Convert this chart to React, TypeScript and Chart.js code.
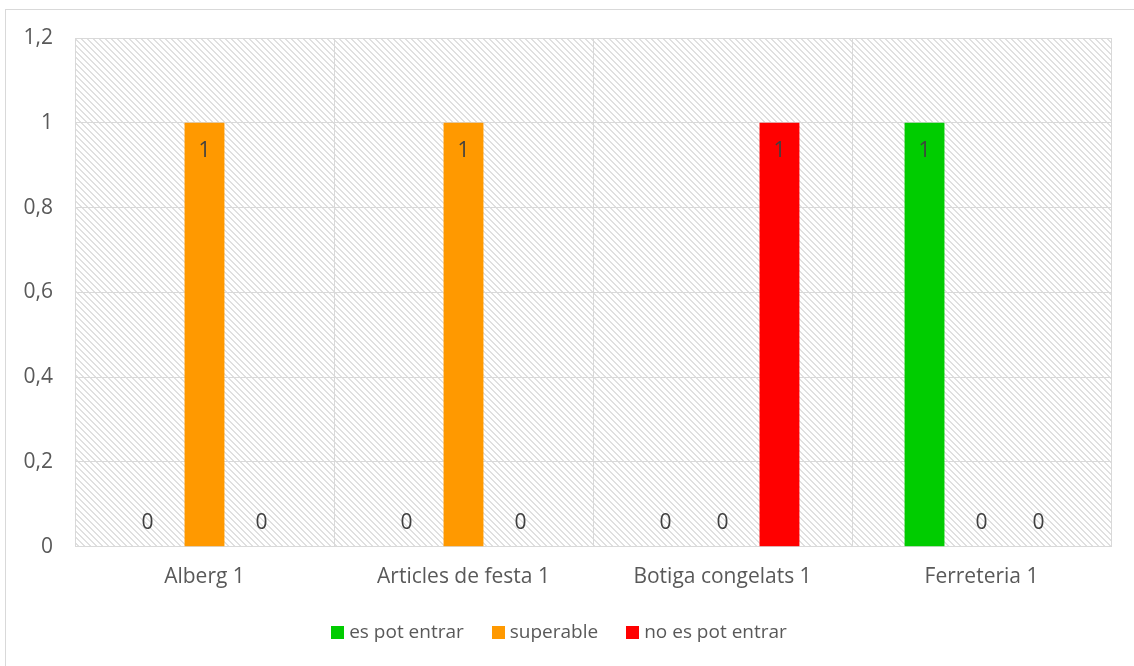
import React, { useEffect, useRef } from "react";
import { Chart, registerables } from "chart.js";

Chart.register(...registerables);

const categories = ["Alberg 1", "Articles de festa 1", "Botiga congelats 1", "Ferreteria 1"];
const seriesNames = ["es pot entrar", "superable", "no es pot entrar"];
const esPotEntrar = [0, 0, 0, 1];
const superable = [1, 1, 0, 0];
const noEsPotEntrar = [0, 0, 1, 0];
const seriesColors = ["#00cc00", "#ff9900", "#ff0000"];
const yTickValues = [0, 0.2, 0.4, 0.6, 0.8, 1, 1.2];
const yTickLabels = ["0", "0,2", "0,4", "0,6", "0,8", "1", "1,2"];

const FONT = "'Open Sans', sans-serif";
const AXIS_SIZE = 21;
const LEGEND_SIZE = 19;
const TEXT = "#595959";
const GRID = "#d9d9d9";

function makePattern(ctx: CanvasRenderingContext2D) {
  const n = 6;
  const c = document.createElement("canvas");
  c.width = n;
  c.height = n;
  const p = c.getContext("2d")!;
  p.fillStyle = "#ffffff";
  p.fillRect(0, 0, n, n);
  p.fillStyle = "#e0e0e0";
  for (let i = 0; i < n; i++) {
    p.fillRect(i, i, 1, 1);
    p.fillRect((i + 1) % n, i, 1, 1);
  }
  return ctx.createPattern(c, "repeat");
}

const hatchPlugin = {
  id: "hatch",
  beforeDraw(chart: any) {
    const { ctx, chartArea } = chart;
    const pat = makePattern(ctx);
    if (!pat) return;
    ctx.save();
    ctx.fillStyle = pat;
    ctx.fillRect(chartArea.left, chartArea.top, chartArea.right - chartArea.left, chartArea.bottom - chartArea.top);
    ctx.restore();
  },
};

const labelPlugin = {
  id: "barLabels",
  afterDatasetsDraw(chart: any) {
    const { ctx } = chart;
    ctx.save();
    ctx.font = `${AXIS_SIZE}px ${FONT}`;
    ctx.fillStyle = "#404040";
    ctx.textAlign = "center";
    ctx.textBaseline = "middle";
    chart.data.datasets.forEach((ds: any, di: number) => {
      const meta = chart.getDatasetMeta(di);
      meta.data.forEach((bar: any, i: number) => {
        const v = ds.data[i];
        const y = v > 0 ? bar.y + 28 : bar.base - 24;
        ctx.fillText(String(v), bar.x, y);
      });
    });
    ctx.restore();
  },
};

const legendPlugin = {
  id: "customLegend",
  afterDraw(chart: any) {
    const { ctx } = chart;
    const box = 13;
    const gap = 5;
    const spacing = 28;
    const cx = 559;
    const cy = 632;
    ctx.save();
    ctx.font = `${LEGEND_SIZE}px ${FONT}`;
    ctx.textBaseline = "middle";
    ctx.textAlign = "left";
    const items = chart.data.datasets.map((ds: any) => ({
      label: ds.label,
      color: ds.backgroundColor,
      w: ctx.measureText(ds.label).width,
    }));
    const total =
      items.reduce((s: number, it: any) => s + box + gap + it.w, 0) + spacing * (items.length - 1);
    let x = cx - total / 2;
    items.forEach((it: any) => {
      ctx.fillStyle = it.color;
      ctx.fillRect(Math.round(x), Math.round(cy - box / 2), box, box);
      ctx.fillStyle = TEXT;
      ctx.fillText(it.label, x + box + gap, cy + 1);
      x += box + gap + it.w + spacing;
    });
    ctx.restore();
  },
};

export default function App() {
  const ref = useRef<HTMLCanvasElement>(null);
  useEffect(() => {
    document.body.style.margin = "0";
    const chart = new Chart(ref.current!, {
      type: "bar",
      data: {
        labels: categories,
        datasets: [esPotEntrar, superable, noEsPotEntrar].map((d, i) => ({
          label: seriesNames[i],
          data: d,
          backgroundColor: seriesColors[i],
          categoryPercentage: 0.66,
          barPercentage: 0.7,
        })),
      },
      options: {
        animation: false,
        responsive: false,
        maintainAspectRatio: false,
        layout: { padding: { top: 38, right: 23, left: 0, bottom: 58 } },
        plugins: {
          legend: { display: false },
          tooltip: { enabled: false },
        },
        scales: {
          x: {
            grid: { color: GRID, drawTicks: false, offset: true },
            border: { color: GRID },
            ticks: { color: TEXT, font: { family: FONT, size: AXIS_SIZE }, padding: 18 },
          },
          y: {
            min: 0,
            max: 1.2,
            afterFit(scale: any) {
              scale.width = 75;
            },
            afterBuildTicks(scale: any) {
              scale.ticks = yTickValues.map((v) => ({ value: v }));
            },
            grid: { color: GRID, drawTicks: false },
            border: { display: false },
            ticks: {
              color: TEXT,
              font: { family: FONT, size: AXIS_SIZE },
              padding: 22,
              callback: (v: any) => {
                const idx = yTickValues.findIndex((t) => Math.abs(t - Number(v)) < 1e-6);
                return idx >= 0 ? yTickLabels[idx] : "";
              },
            },
          },
        },
      },
      plugins: [hatchPlugin, labelPlugin, legendPlugin],
    });
    return () => chart.destroy();
  }, []);
  return (
    <div style={{ position: "relative", width: 1134, height: 666, overflow: "hidden", background: "#fff" }}>
      <div
        style={{
          position: "absolute",
          left: 5,
          top: 9,
          width: 1200,
          height: 700,
          border: "1px solid #d9d9d9",
          borderRightWidth: 0,
          borderBottomWidth: 0,
        }}
      />
      <canvas ref={ref} width={1134} height={666} style={{ position: "absolute", left: 0, top: 0 }} />
    </div>
  );
}
